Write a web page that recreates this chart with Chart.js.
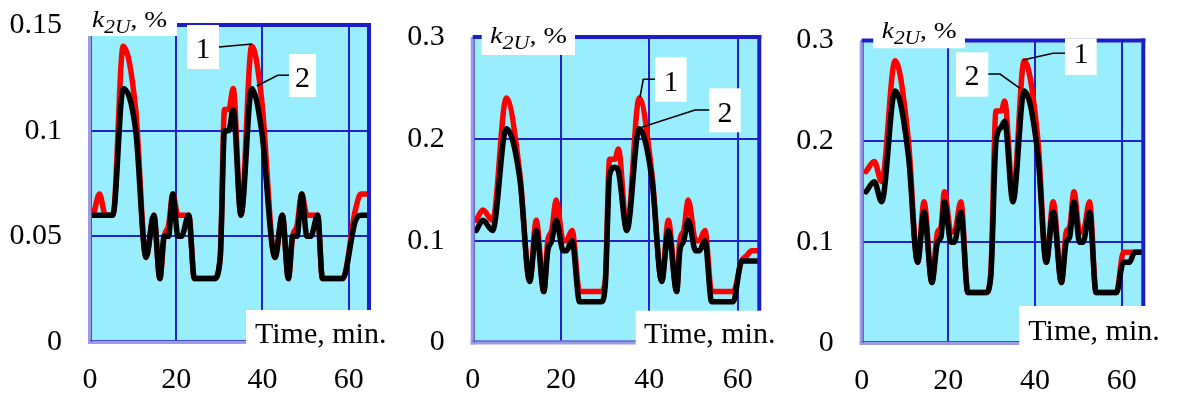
<!DOCTYPE html>
<html>
<head>
<meta charset="utf-8">
<script src="https://cdn.jsdelivr.net/npm/chart.js@4.4.0/dist/chart.umd.min.js"></script>
<style>
  body { margin: 0; background: #fff; width: 1182px; height: 395px; overflow: hidden; position: relative;
         font-family: "Liberation Serif", serif; }
  canvas { position: absolute; top: 0; }
  .warm { position: absolute; left: -999px; top: 0; font-size: 30px; }
</style>
</head>
<body>
<span class="warm">0.15 <i>k</i> Time</span>
<canvas id="c1" style="left:0px" width="395" height="395"></canvas>
<canvas id="c2" style="left:390px" width="395" height="395"></canvas>
<canvas id="c3" style="left:780px" width="402" height="395"></canvas>
<script>
// time, min. (shared by both curves of a panel)
const time1 = [0.8, 2.2, 3.6, 5.3, 7.7, 10.6, 13, 14.8, 16.2, 17.2, 18.2, 19.2, 20.4, 21.2, 22.9, 24.2, 28.8, 30.2, 31.2, 32.2, 33.2, 35, 37.5, 39.8, 42.9, 44.6, 46, 47, 48, 49.1, 50.3, 51.2, 52.8, 53.9, 58.6, 61.5, 62.8, 64.5];
const red1 = [0.06, 0.07, 0.06, 0.06, 0.14, 0.11, 0.04, 0.06, 0.03, 0.05, 0.055, 0.07, 0.06, 0.06, 0.06, 0.03, 0.03, 0.04, 0.11, 0.11, 0.12, 0.06, 0.14, 0.115, 0.04, 0.06, 0.03, 0.05, 0.055, 0.07, 0.06, 0.06, 0.06, 0.03, 0.03, 0.062, 0.07, 0.07];
const black1 = [0.06, 0.06, 0.06, 0.06, 0.12, 0.10, 0.04, 0.06, 0.03, 0.05, 0.05, 0.07, 0.05, 0.05, 0.06, 0.03, 0.03, 0.04, 0.10, 0.10, 0.11, 0.06, 0.12, 0.10, 0.04, 0.06, 0.03, 0.05, 0.05, 0.07, 0.05, 0.05, 0.06, 0.03, 0.03, 0.057, 0.06, 0.06];

const time2 = [0.8, 2.3, 4.5, 7.6, 10.7, 12.9, 14.4, 16.1, 17.0, 17.9, 18.9, 20.5, 21.2, 22.5, 24.2, 29.1, 30.0, 31.0, 32.2, 33.0, 34.9, 37.7, 40.6, 42.8, 44.3, 46.2, 46.9, 47.8, 48.8, 50.5, 51.3, 52.6, 54.1, 59.0, 60.9, 62.0, 63.2, 64.5];
const red2 = [0.12, 0.13, 0.12, 0.24, 0.165, 0.06, 0.12, 0.05, 0.10, 0.11, 0.14, 0.10, 0.10, 0.11, 0.05, 0.05, 0.06, 0.18, 0.18, 0.19, 0.11, 0.24, 0.165, 0.06, 0.12, 0.05, 0.10, 0.11, 0.14, 0.10, 0.10, 0.11, 0.05, 0.05, 0.08, 0.085, 0.09, 0.09];
const black2 = [0.11, 0.12, 0.11, 0.21, 0.16, 0.06, 0.11, 0.05, 0.09, 0.10, 0.12, 0.09, 0.09, 0.10, 0.04, 0.04, 0.055, 0.165, 0.172, 0.168, 0.11, 0.21, 0.16, 0.06, 0.11, 0.05, 0.09, 0.10, 0.12, 0.09, 0.09, 0.10, 0.04, 0.04, 0.08, 0.08, 0.08, 0.08];

const time3 = [1.0, 2.9, 4.6, 7.7, 10.8, 12.9, 14.4, 16.2, 17.5, 18.3, 19.1, 20.6, 21.4, 22.9, 24.5, 28.7, 29.8, 31.0, 32.2, 33.0, 34.9, 37.5, 40.7, 42.6, 44.2, 46.1, 47.2, 48.0, 49.0, 50.3, 51.1, 52.6, 54.1, 58.8, 60.4, 61.8, 63.0, 64.3];
const red3 = [0.17, 0.18, 0.16, 0.28, 0.20, 0.08, 0.14, 0.06, 0.11, 0.115, 0.15, 0.11, 0.11, 0.14, 0.05, 0.05, 0.07, 0.23, 0.23, 0.24, 0.145, 0.28, 0.20, 0.08, 0.14, 0.06, 0.11, 0.115, 0.15, 0.11, 0.11, 0.14, 0.05, 0.05, 0.09, 0.09, 0.09, 0.09];
const black3 = [0.15, 0.16, 0.14, 0.25, 0.185, 0.08, 0.13, 0.06, 0.10, 0.105, 0.14, 0.10, 0.10, 0.13, 0.05, 0.05, 0.066, 0.20, 0.214, 0.22, 0.14, 0.25, 0.185, 0.08, 0.13, 0.06, 0.10, 0.105, 0.14, 0.10, 0.10, 0.13, 0.05, 0.05, 0.08, 0.08, 0.09, 0.09];

const xTickStep = 20;
const yMax = [0.15, 0.3, 0.3];
const yStep = [0.05, 0.1, 0.1];
const curveLabels = ['1', '2'];
const yTitle = ['k', '2U', ', %'];
const xTitle = 'Time, min.';

const SERIF = "'Liberation Serif', serif";
const GRID = '#2222cc';

function pts(t, v) {
  return t.map((x, i) => ({ x: x, y: v[i] }));
}

function drawKLabel(ctx, x, base, w) {
  const parts = [
    ['italic 23px ' + SERIF, yTitle[0], 0],
    ['italic 18px ' + SERIF, yTitle[1], 6],
    ['23px ' + SERIF, yTitle[2], 0]
  ];
  let total = 0;
  parts.forEach(p => { ctx.font = p[0]; total += ctx.measureText(p[1]).width; });
  ctx.save();
  ctx.translate(x, base);
  ctx.scale(w / total, 1);
  ctx.fillStyle = '#000';
  ctx.textBaseline = 'alphabetic';
  ctx.textAlign = 'left';
  let cx = 0;
  parts.forEach(p => {
    ctx.font = p[0];
    ctx.fillText(p[1], cx, p[2]);
    cx += ctx.measureText(p[1]).width;
  });
  ctx.restore();
}

function box(ctx, b) {
  ctx.fillStyle = '#fff';
  ctx.fillRect(b[0], b[1], b[2] - b[0], b[3] - b[1]);
}

function leader(ctx, line) {
  ctx.beginPath();
  ctx.moveTo(line[0][0], line[0][1]);
  for (let i = 1; i < line.length; i++) ctx.lineTo(line[i][0], line[i][1]);
  ctx.strokeStyle = '#000';
  ctx.lineWidth = 1.6;
  ctx.stroke();
}

function framePlugin(o) {
  const sh = (b) => [b[0] - o.ox, b[1], b[2] - o.ox, b[3]];
  const shl = (l) => l.map(p => [p[0] - o.ox, p[1]]);
  return {
    id: 'frame',
    beforeDraw(chart) {
      const a = chart.chartArea, ctx = chart.ctx;
      ctx.save();
      ctx.fillStyle = '#98eefc';
      ctx.fillRect(a.left, a.top, a.right - a.left, a.bottom - a.top);
      ctx.restore();
    },
    afterDatasetsDraw(chart) {
      const a = chart.chartArea, ctx = chart.ctx;
      ctx.save();
      // left and bottom edges: light double line
      ctx.fillStyle = '#9c9ce4';
      ctx.fillRect(a.left - 2, a.top, 4, a.bottom - a.top + 2);
      ctx.fillRect(a.left - 2, a.bottom - 2, a.right - a.left + 2, 4);
      ctx.fillStyle = '#4a4ad0';
      ctx.fillRect(a.left + 1, a.top, 1, a.bottom - a.top);
      ctx.fillRect(a.left, a.bottom - 2, a.right - a.left, 1);
      // top and right edges: thick blue
      ctx.fillStyle = '#1e1ec8';
      ctx.fillRect(a.left, a.top - 2, a.right - a.left + 2, 4);
      ctx.fillRect(a.right - 2, a.top - 2, 4, a.bottom - a.top + 2);
      ctx.restore();
    },
    afterDraw(chart) {
      const ctx = chart.ctx;
      ctx.save();
      box(ctx, sh(o.kBox));
      drawKLabel(ctx, o.kText[0] - o.ox, o.kText[1], o.kText[2]);
      box(ctx, sh(o.box1));
      box(ctx, sh(o.box2));
      leader(ctx, shl(o.lead1));
      leader(ctx, shl(o.lead2));
      ctx.fillStyle = '#000';
      ctx.font = '30px ' + SERIF;
      ctx.textAlign = 'center';
      ctx.textBaseline = 'alphabetic';
      ctx.fillText(curveLabels[0], o.t1[0] - o.ox, o.t1[1]);
      ctx.fillText(curveLabels[1], o.t2[0] - o.ox, o.t2[1]);
      box(ctx, sh(o.timeBox));
      ctx.fillStyle = '#000';
      ctx.textAlign = 'left';
      ctx.fillText(xTitle, o.timeText[0] - o.ox, o.timeText[1]);
      ctx.restore();
    }
  };
}

function makePanel(id, t, red, black, o) {
  const tickFont = { family: SERIF, size: 30 };
  return new Chart(document.getElementById(id), {
    type: 'line',
    data: {
      datasets: [
        { label: curveLabels[1], data: pts(t, black), borderColor: '#000000', borderWidth: 5.5 },
        { label: curveLabels[0], data: pts(t, red), borderColor: '#ff0000', borderWidth: 5.5 }
      ]
    },
    options: {
      responsive: false,
      animation: false,
      layout: { padding: { top: o.top, right: o.right, left: 0, bottom: 0 } },
      plugins: { legend: { display: false }, tooltip: { enabled: false } },
      elements: {
        point: { radius: 0 },
        line: { cubicInterpolationMode: 'monotone', borderJoinStyle: 'round', borderCapStyle: 'round', fill: false }
      },
      scales: {
        x: {
          type: 'linear', min: 0, max: o.xMax,
          afterFit: s => { s.height = o.xH; s.paddingLeft = 0; s.paddingRight = 0; },
          grid: { color: GRID, lineWidth: 2, drawTicks: false },
          border: { display: false },
          ticks: { stepSize: xTickStep, includeBounds: false, padding: 20, font: tickFont, color: '#000', maxRotation: 0 }
        },
        y: {
          type: 'linear', min: 0, max: o.yMax,
          afterFit: s => { s.width = o.yW; s.paddingTop = 0; s.paddingBottom = 0; },
          grid: { color: GRID, lineWidth: 2, drawTicks: false },
          border: { display: false },
          ticks: { stepSize: o.yStep, includeBounds: false, padding: 28, font: tickFont, color: '#000',
                   callback: v => String(+v.toFixed(2)) }
        }
      }
    },
    plugins: [framePlugin(o)]
  });
}

Chart.defaults.font.family = SERIF;
Chart.defaults.font.size = 30;

const charts = [
  makePanel('c1', time1, red1, black1, {
    ox: 0, top: 25, right: 26, yW: 90, xH: 53, xMax: 64.7, yMax: yMax[0], yStep: yStep[0],
    kBox: [88, 0, 177, 36], kText: [92, 27, 75],
    box1: [187, 25, 219, 69], t1: [203, 58.3], lead1: [[219, 47], [252, 44]],
    box2: [289, 54, 316, 97], t2: [302.5, 87.3], lead2: [[289, 75.3], [277.7, 75.3], [256.7, 86]],
    timeBox: [246, 310, 395, 352], timeText: [255, 343]
  }),
  makePanel('c2', time2, red2, black2, {
    ox: 390, top: 37, right: 25.7, yW: 82.7, xH: 52.5, xMax: 64.9, yMax: yMax[1], yStep: yStep[1],
    kBox: [481.7, 15, 575, 55], kText: [490, 43.3, 77],
    box1: [655, 57.3, 686.7, 101.7], t1: [671, 90.7], lead1: [[655, 79.3], [643.3, 79.3], [640, 97]],
    box2: [709.3, 88.3, 740.7, 132.3], t2: [725, 121.7], lead2: [[709.3, 110], [695, 110], [641.7, 127.3]],
    timeBox: [635.7, 310.7, 785, 352], timeText: [644, 343.3]
  }),
  makePanel('c3', time3, red3, black3, {
    ox: 780, top: 40.5, right: 38.7, yW: 81.7, xH: 52, xMax: 65, yMax: yMax[2], yStep: yStep[2],
    kBox: [873.3, 15, 965, 48.3], kText: [881.7, 38.3, 75],
    box1: [1065, 38.3, 1096.7, 75], t1: [1081, 63.3], lead1: [[1065, 53.3], [1053, 53.3], [1023, 60]],
    box2: [956, 52.3, 988.3, 96.7], t2: [972, 85], lead2: [[988.3, 74], [1000, 74], [1020, 88.3]],
    timeBox: [1019.3, 306, 1182, 350], timeText: [1028.3, 340]
  })
];

// redraw once the serif faces are ready, in case the first pass used a fallback
Promise.all([
  document.fonts.load("30px 'Liberation Serif'"),
  document.fonts.load("italic 23px 'Liberation Serif'")
]).then(() => charts.forEach(c => c.update('none')));
</script>
</body>
</html>
